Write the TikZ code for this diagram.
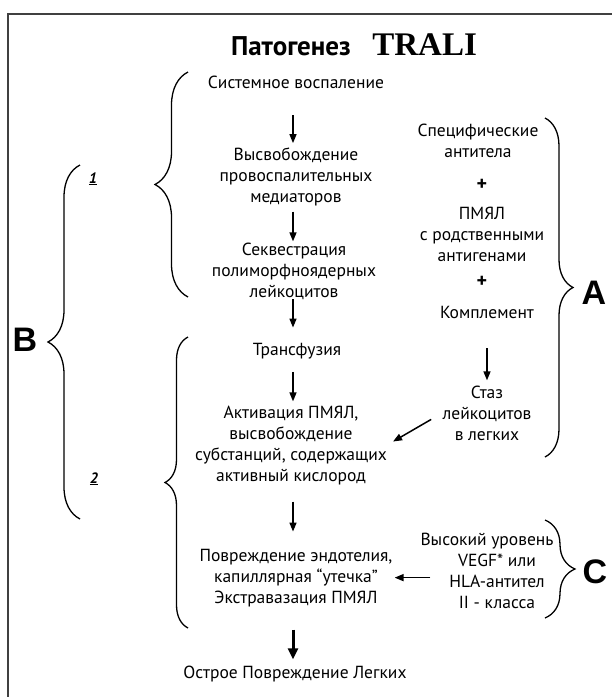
\documentclass[tikz,border=0pt]{standalone}
\usepackage{fontspec}
\setmainfont{PT Sans}
\newfontfamily\titleserif{Liberation Serif}
\newfontfamily\bigletter{Liberation Sans}
\usetikzlibrary{arrows.meta}
\usetikzlibrary{decorations.pathreplacing}
\tikzset{txt/.style={inner sep=0pt, align=center, anchor=base, font=\fontsize{17.5}{21}\selectfont},
 arr/.style={line width=1.5pt, -{Triangle[length=9pt,width=7pt]}},
 thickarr/.style={line width=3pt, -{Triangle[length=11pt,width=10pt]}},
 brc/.style={decorate, decoration={brace, amplitude=#1}, line width=1.3pt},
 letter/.style={inner sep=0pt, font=\bigletter\bfseries\fontsize{34}{34}\selectfont},
 grp/.style={inner sep=0pt, anchor=base, font=\bfseries\itshape\fontsize{15}{15}\selectfont},
 plus/.style={inner sep=0pt, font=\bfseries\fontsize{20}{20}\selectfont},
 }

\begin{document}
\begin{tikzpicture}[x=1pt,y=-1pt]
        \useasboundingbox (0,0) rectangle (612,697);
        \fill[white] (0,0) rectangle (612,697);
        \draw [line width=1.3pt, black!75] (8,697) -- (8,14) -- (612,14);
        \node [inner sep=0pt, anchor=base] (title) at (354,55) {\fontsize{27}{27}\selectfont\bfseries Патогенез\hspace{0.8em}{\titleserif\fontsize{33}{33}\selectfont TRALI}};
        \coordinate (col) at (293,0);
        \node [txt] (sys) at (296,88) {Системное воспаление};
        \node [txt] (rel) at (296,202) {Высвобождение\\провоспалительных\\медиаторов};
        \node [txt] (seq) at (294,297) {Секвестрация\\полиморфноядерных\\лейкоцитов};
        \node [txt] (trans) at (297,355) {Трансфузия};
        \node [txt] (act) at (291,481) {Активация ПМЯЛ,\\высвобождение\\субстанций, содержащих\\активный кислород};
        \node [txt] (dam) at (296,603) {Повреждение эндотелия,\\капиллярная “утечка”\\Экстравазация ПМЯЛ};
        \node [txt] (ali) at (295,678) {Острое Повреждение Легких};
        \node [txt] (spec) at (478,157) {Специфические\\антитела};
        \node [plus] (p1) at (482,185) {+};
        \node [txt] (pmjal) at (482,261) {ПМЯЛ\\с родственными\\антигенами};
        \node [plus] (p2) at (482,282) {+};
        \node [txt] (compl) at (487,318) {Комплемент};
        \node [txt] (stasis) at (487,440) {Стаз\\лейкоцитов\\в легких};
        \node [txt] (cfac) at (497,608) {Высокий уровень\hspace*{20pt}\\VEGF* или\\HLA-антител\\II - класса};
        \draw [arr, shorten <=27pt, shorten >=4pt] (col |- sys.south) -- (col |- rel.north);
        \draw [arr, shorten <=6pt, shorten >=1pt] (col |- rel.south) -- (col |- seq.north);
        \draw [arr, shorten <=0pt, shorten >=15pt] (col |- seq.south) -- (col |- trans.north);
        \draw [arr, shorten <=13pt, shorten >=4pt] (col |- trans.south) -- (col |- act.north);
        \draw [arr, shorten <=17pt, shorten >=17pt] (col |- act.south) -- (col |- dam.north);
        \draw [thickarr, shorten <=23pt, shorten >=6pt] (col |- dam.south) -- (col |- ali.north);
        \draw [arr, shorten <=30pt, shorten >=5pt] (compl.south) -- (stasis.north);
        \draw [arr, shorten <=13pt, shorten >=7pt] (stasis.west) -- (act.east);
        \draw [arr, shorten <=-10pt, shorten >=2pt] (dam.east -| cfac.west) -- (dam.east);
        \draw [brc=32pt] (80,519) -- (80,165);
        \draw [brc=33pt] (188,297) -- (188,72);
        \draw [brc=23pt] (188,628) -- (188,337);
        \draw [brc=28pt] (545,118) -- (545,457);
        \draw [brc=30pt] (545,520) -- (545,618);
        \node [letter] (lb) at (25,340) {B};
        \node [letter] (la) at (594,293) {A};
        \node [letter] (lc) at (595,572) {C};
        \node [grp] (g1) at (93,183) {\underline{1}};
        \node [grp] (g2) at (94,483) {\underline{2}};
    \end{tikzpicture}
\end{document}
